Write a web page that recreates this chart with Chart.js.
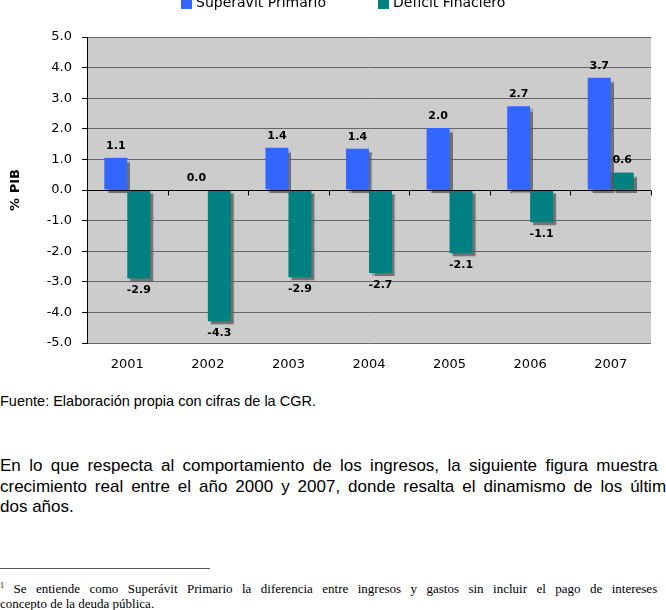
<!DOCTYPE html>
<html>
<head>
<meta charset="utf-8">
<script src="https://cdn.jsdelivr.net/npm/chart.js@4"></script>
<style>
  body { margin: 0; width: 666px; height: 610px; overflow: hidden; position: relative; background: #fff; }
  #wrap { position: absolute; left: 0; top: 0; width: 666px; height: 380px; }
  .txt { position: absolute; left: 0; margin: 0; white-space: nowrap; color: #000; }
  .src { top: 393px; font: 14.5px/16px "Liberation Sans", Arial, sans-serif; }
  .par { top: 456px; font: 17px/20.5px "Liberation Sans", Arial, sans-serif; }
  .jl { display: block; width: 684px; white-space: normal; text-align: justify; text-align-last: justify; }
  .rule { position: absolute; left: 0; top: 568px; width: 210px; height: 1px; background: #555; }
  .fn { top: 582px; font: 13px/14.5px "Liberation Serif", "Times New Roman", serif; }
  .fn sup { font-size: 8px; vertical-align: top; position: relative; top: -3px; }
</style>
</head>
<body>
<div id="wrap"><canvas id="fiscalChart" width="666" height="380"></canvas></div>

<div class="txt src">Fuente: Elaboración propia con cifras de la CGR.</div>

<div class="txt par">
  <span class="jl">En lo que respecta al comportamiento de los ingresos, la siguiente figura muestra su</span>
  <span class="jl">crecimiento real entre el año 2000 y 2007, donde resalta el dinamismo de los últimos</span>
  <span>dos años.</span>
</div>

<div class="rule"></div>
<div class="txt fn">
  <span class="jl"><sup>1</sup> Se entiende como Superávit Primario la diferencia entre ingresos y gastos sin incluir el pago de intereses por</span>
  <span>concepto de la deuda pública.</span>
</div>

<script>
// Values (% of GDP)
const years = ['2001', '2002', '2003', '2004', '2005', '2006', '2007'];
const superavitPrimario = [1.05, 0.0, 1.38, 1.35, 2.03, 2.74, 3.67];
const deficitFinanciero = [-2.89, -4.29, -2.85, -2.71, -2.07, -1.05, 0.57];
const seriesNames = ['Superavit Primario', 'Deficit Finaciero'];
const seriesColors = ['#3366ff', '#008080'];

Chart.defaults.font.family = '"DejaVu Sans", Verdana, sans-serif';
Chart.defaults.color = '#000';

// gray plot area + zero axis with category ticks
const plotFrame = {
    id: 'plotFrame',
    beforeDraw(chart) {
        const { ctx, chartArea: a } = chart;
        ctx.save();
        ctx.fillStyle = '#cccccc';
        ctx.fillRect(a.left, a.top, a.right - a.left, a.bottom - a.top);
        ctx.restore();
    },
    afterDatasetsDraw(chart) {
        const { ctx, chartArea: a, scales } = chart;
        const y0 = Math.round(scales.y.getPixelForValue(0)) + 0.5;
        const n = scales.x.ticks.length;
        const step = (a.right - a.left) / n;
        ctx.save();
        ctx.strokeStyle = '#000';
        ctx.lineWidth = 1;
        ctx.beginPath();
        ctx.moveTo(a.left, y0);
        ctx.lineTo(a.right, y0);
        for (let i = 0; i <= n; i++) {
            const px = Math.round(a.left + i * step) + 0.5;
            ctx.moveTo(px, y0);
            ctx.lineTo(px, y0 + 5);
        }
        ctx.stroke();
        ctx.restore();
    }
};

// drop shadow behind the bars
const barShadow = {
    id: 'barShadow',
    beforeDatasetDraw(chart) {
        const ctx = chart.ctx;
        ctx.save();
        ctx.shadowColor = 'rgba(90, 90, 90, 0.8)';
        ctx.shadowOffsetX = 3;
        ctx.shadowOffsetY = 3;
        ctx.shadowBlur = 1;
    },
    afterDatasetDraw(chart) {
        chart.ctx.restore();
    }
};

// value labels above / below each bar
const barLabels = {
    id: 'barLabels',
    afterDatasetsDraw(chart) {
        const ctx = chart.ctx;
        ctx.save();
        ctx.font = 'bold 11px "DejaVu Sans"';
        ctx.fillStyle = '#000';
        ctx.textAlign = 'center';
        ctx.textBaseline = 'middle';
        chart.data.datasets.forEach((ds, i) => {
            chart.getDatasetMeta(i).data.forEach((bar, j) => {
                const v = ds.data[j];
                const y = v >= 0 ? bar.y - 12 : bar.y + 12;
                ctx.fillText(v.toFixed(1), bar.x, y);
            });
        });
        ctx.restore();
    }
};

// legend at the very top (partly cut by the page edge)
const topLegend = {
    id: 'topLegend',
    afterDraw(chart) {
        const ctx = chart.ctx;
        const starts = [181, 378];
        ctx.save();
        ctx.font = '14px "DejaVu Sans"';
        ctx.textBaseline = 'middle';
        ctx.textAlign = 'left';
        chart.data.datasets.forEach((ds, i) => {
            ctx.fillStyle = ds.backgroundColor;
            ctx.fillRect(starts[i], -2, 11, 11);
            ctx.fillStyle = '#000';
            ctx.fillText(ds.label, starts[i] + 15, 3);
        });
        ctx.restore();
    }
};

const ctx = document.getElementById('fiscalChart').getContext('2d');
new Chart(ctx, {
    type: 'bar',
    data: {
        labels: years,
        datasets: [{
            label: seriesNames[0],
            data: superavitPrimario,
            backgroundColor: seriesColors[0]
        }, {
            label: seriesNames[1],
            data: deficitFinanciero,
            backgroundColor: seriesColors[1]
        }]
    },
    options: {
        responsive: false,
        animation: false,
        devicePixelRatio: 1,
        categoryPercentage: 0.57,
        barPercentage: 1.0,
        layout: { padding: { top: 37, right: 15, left: 0, bottom: 0 } },
        plugins: {
            legend: { display: false },
            tooltip: { enabled: false }
        },
        scales: {
            x: {
                grid: { display: false, drawTicks: false, tickLength: 0 },
                border: { display: false },
                ticks: { font: { size: 13 }, padding: 14 },
                afterFit: s => { s.height = 37; }
            },
            y: {
                min: -5,
                max: 5,
                ticks: {
                    stepSize: 1,
                    font: { size: 13 },
                    padding: 10,
                    callback: v => v.toFixed(1)
                },
                grid: {
                    color: c => (c.tick && c.tick.value === 0) ? '#000' : '#666',
                    lineWidth: 1,
                    tickLength: 5,
                    tickColor: '#000'
                },
                border: { color: '#000', width: 1 },
                title: {
                    display: true,
                    text: '% PIB',
                    font: { size: 13, weight: 'bold' },
                    padding: { top: 8, bottom: 0 }
                },
                afterFit: s => { s.width = 87; }
            }
        }
    },
    plugins: [plotFrame, barShadow, barLabels, topLegend]
});
</script>
</body>
</html>
